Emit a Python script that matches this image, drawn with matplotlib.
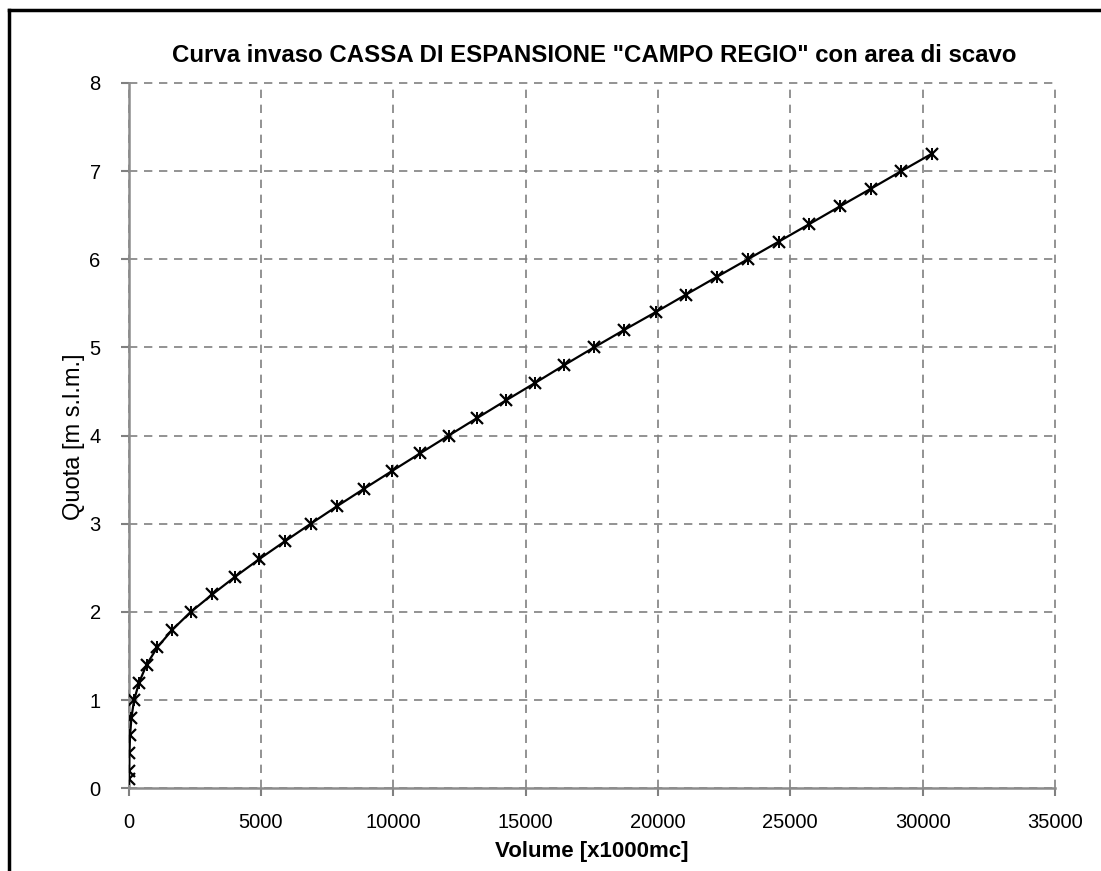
import matplotlib
matplotlib.use("Agg")
import matplotlib.pyplot as plt
from matplotlib.lines import Line2D

volume = [10, 20, 30, 60, 110, 210, 400, 680, 1090, 1660, 2350, 3170, 4030, 4940,
          5900, 6880, 7880, 8910, 9960, 11020, 12090, 13170, 14260, 15370, 16460,
          17580, 18730, 19910, 21060, 22220, 23390, 24560, 25720, 26870, 28040,
          29190, 30360]
quota = [0.1, 0.2, 0.4, 0.6, 0.8, 1.0, 1.2, 1.4, 1.6, 1.8, 2.0, 2.2, 2.4, 2.6,
         2.8, 3.0, 3.2, 3.4, 3.6, 3.8, 4.0, 4.2, 4.4, 4.6, 4.8, 5.0, 5.2, 5.4,
         5.6, 5.8, 6.0, 6.2, 6.4, 6.6, 6.8, 7.0, 7.2]
xticks = [0, 5000, 10000, 15000, 20000, 25000, 30000, 35000]
yticks = [0, 1, 2, 3, 4, 5, 6, 7, 8]

title = 'Curva invaso CASSA DI ESPANSIONE "CAMPO REGIO" con area di scavo'
xlabel = "Volume [x1000mc]"
ylabel = "Quota [m s.l.m.]"

plt.rcParams['font.family'] = ['Liberation Sans Narrow', 'Liberation Sans', 'DejaVu Sans']

W, H = 1101, 871
fig = plt.figure(figsize=(W / 100, H / 100), dpi=100)
ax = fig.add_axes([128.5 / W, 1 - 788.3 / H, (1055 - 128.5) / W, (788.3 - 83) / H])

ax.plot(volume, quota, color='black', linewidth=1.6, zorder=3)
ax.plot(volume, quota, linestyle='none', marker='x', markersize=8, mew=1.6,
        color='black', zorder=4)
ax.plot(volume, quota, linestyle='none', marker='|', markersize=8, mew=1.4,
        color='black', zorder=4)

ax.set_xlim(0, 35000)
ax.set_ylim(0, 8)
ax.set_xticks(xticks)
ax.set_yticks(yticks)
ax.set_xticklabels([str(t) for t in xticks])
ax.set_yticklabels([str(t) for t in yticks])
ax.tick_params(axis='both', labelsize=14.5, color='#808080', length=6, width=1.5,
               direction='out')
ax.tick_params(axis='x', pad=12)
ax.tick_params(axis='y', pad=14)
ax.grid(True, color='#808080', linestyle=(0, (5, 4)), linewidth=1.2, clip_on=False)
ax.set_axisbelow(True)
for s in ['top', 'right']:
    ax.spines[s].set_visible(False)
for s in ['left', 'bottom']:
    ax.spines[s].set_color('#8c8c8c')
    ax.spines[s].set_linewidth(1.8)

fig.text(594 / W, 1 - 55 / H, title, ha='center', va='center', fontsize=17.3,
         fontweight='bold')
fig.text(592 / W, 1 - 851 / H, xlabel, ha='center', va='center', fontsize=16,
         fontweight='bold')
fig.text(74 / W, 1 - 437 / H, ylabel, ha='center', va='center', fontsize=17,
         rotation=90)

# outer chart border (left and top visible)
fig.add_artist(Line2D([9 / W, 9 / W], [0, 1 - 10 / H], color='black', linewidth=2.5,
                      transform=fig.transFigure))
fig.add_artist(Line2D([9 / W, 1], [1 - 10 / H, 1 - 10 / H], color='black', linewidth=2.5,
                      transform=fig.transFigure))

fig.savefig("out.png", dpi=100)
